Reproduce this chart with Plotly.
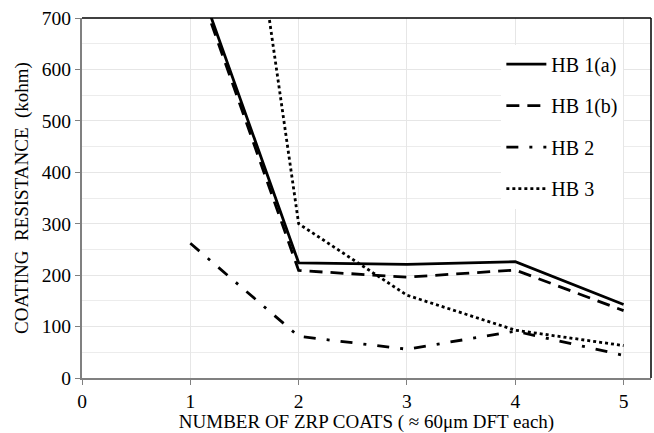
import plotly.graph_objects as go

coats = [1, 2, 3, 4, 5]
hb1a = [815, 224, 221, 226, 143]
hb1b = [805, 209, 196, 210, 131]
hb2 = [262, 81, 56, 91, 44]
hb3 = [1770, 300, 161, 93, 63]

series = [
    ("HB 1(a)", hb1a, "solid"),
    ("HB 1(b)", hb1b, "13px,8px"),
    ("HB 2", hb2, "12px,11px,3px,11px"),
    ("HB 3", hb3, "3px,3px"),
]

FONT = "'Times New Roman', 'Liberation Serif', 'DejaVu Serif', serif"

fig = go.Figure()
for i, (name, vals, dash) in enumerate(series):
    fig.add_trace(go.Scatter(
        x=coats, y=vals, mode="lines", name=name,
        legendgroup=f"g{i}",
        line=dict(color="black", width=2.8, dash=dash),
    ))

fig.update_layout(
    width=654, height=433,
    margin=dict(l=82, r=3, t=18, b=55),
    paper_bgcolor="white", plot_bgcolor="white",
    font=dict(family=FONT, color="black", size=19),
    showlegend=True,
    legend=dict(
        x=0.737, y=0.926, xanchor="left", yanchor="top",
        bgcolor="white", borderwidth=0,
        font=dict(family=FONT, size=20, color="black"),
        tracegroupgap=12.5, itemwidth=40,
    ),
    xaxis=dict(
        range=[0, 5.253], tickvals=[0, 1, 2, 3, 4, 5], automargin=False,
        showgrid=True, gridcolor="#e6e6e6", gridwidth=1,
        zeroline=False, showline=True, linecolor="#808080", linewidth=2,
        ticks="outside", ticklen=5, tickcolor="#808080", tickwidth=1,
        tickfont=dict(family=FONT, size=19.5),
        title=dict(text="NUMBER OF ZRP COATS ( ≈ 60μm DFT each)",
                   font=dict(family=FONT, size=19), standoff=10),
    ),
    yaxis=dict(
        range=[0, 700], dtick=100, automargin=False,
        showgrid=True, gridcolor="#e6e6e6", gridwidth=1,
        minor=dict(dtick=50, showgrid=True, gridcolor="#ececec", gridwidth=1),
        zeroline=False, showline=True, linecolor="#808080", linewidth=2,
        ticks="outside", ticklen=5, tickcolor="#808080", tickwidth=1,
        tickfont=dict(family=FONT, size=19.5),
        title=dict(text="COATING  RESISTANCE  (kohm)",
                   font=dict(family=FONT, size=19), standoff=8),
    ),
    shapes=[
        dict(type="line", xref="paper", yref="paper", x0=0, x1=1, y0=1, y1=1,
             line=dict(color="black", width=1.5)),
        dict(type="line", xref="paper", yref="paper", x0=1, x1=1, y0=0, y1=1,
             line=dict(color="black", width=1.5)),
    ],
)

fig.write_html("out.html", config={"displayModeBar": False},
               post_script="document.body.style.margin='0px';")
